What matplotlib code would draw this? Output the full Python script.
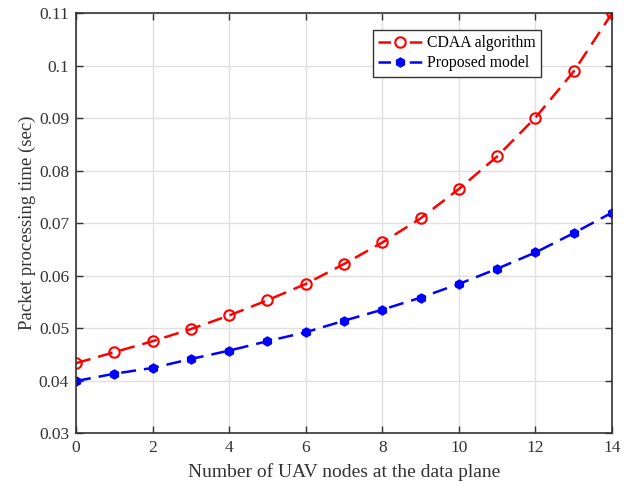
import matplotlib.pyplot as plt
import numpy as np

plt.rcParams['font.family'] = ['Liberation Serif', 'DejaVu Serif']

nodes = np.arange(0, 15)
cdaa = [0.0433, 0.0454, 0.0475, 0.0498, 0.0524, 0.0553, 0.0584, 0.0622,
        0.0663, 0.0709, 0.0765, 0.0827, 0.0901, 0.0989, 0.1100]
proposed = [0.0399, 0.0413, 0.0424, 0.0441, 0.0457, 0.0475, 0.0492, 0.0514,
            0.0535, 0.0558, 0.0584, 0.0613, 0.0644, 0.0681, 0.0720]

fig = plt.figure(figsize=(6.27, 4.86), dpi=100)
ax = fig.add_axes([0.1212, 0.109, 0.855, 0.864])

dash = (0, (6, 3.2))
ax.plot(nodes, cdaa, color='red', linestyle=dash, linewidth=1.8,
        marker='o', markersize=7.5, markerfacecolor='none', markeredgewidth=1.5,
        label='CDAA algorithm')
ax.plot(nodes, proposed, color='blue', linestyle=dash, linewidth=1.8,
        marker='h', markersize=6.5, markerfacecolor='blue', markeredgecolor='blue',
        label='Proposed model')

ax.set_xlim(0, 14)
ax.set_ylim(0.03, 0.11)
ax.set_xticks(np.arange(0, 15, 2))
ax.set_yticks(np.arange(0.03, 0.111, 0.01))
ax.set_yticklabels(['0.03', '0.04', '0.05', '0.06', '0.07', '0.08', '0.09', '0.1', '0.11'])
ax.grid(True, color='#e0e0e0', linewidth=1.0)
ax.set_axisbelow(True)
ax.tick_params(direction='in', top=True, right=True, labelsize=12.5, length=5,
               width=1.0, colors='#333333', pad=5)
for s in ax.spines.values():
    s.set_color('#333333')
    s.set_linewidth(1.2)

ax.set_xlabel('Number of UAV nodes at the data plane', fontsize=14, color='#333333', labelpad=5)
ax.set_ylabel('Packet processing time (sec)', fontsize=13.5, color='#333333', labelpad=2)

leg = ax.legend(loc='upper left', bbox_to_anchor=(0.554, 0.96), fontsize=11.3,
                fancybox=False, edgecolor='#333333', framealpha=1,
                handlelength=2.8, borderpad=0.35, labelspacing=0.25, handletextpad=0.3,
                borderaxespad=0)
leg.get_frame().set_linewidth(1.0)
# dash - marker - dash in the legend keys
for h in leg.get_lines():
    h.set_linestyle((0, (5, 7.5)))

fig.savefig('out.png', dpi=100)
